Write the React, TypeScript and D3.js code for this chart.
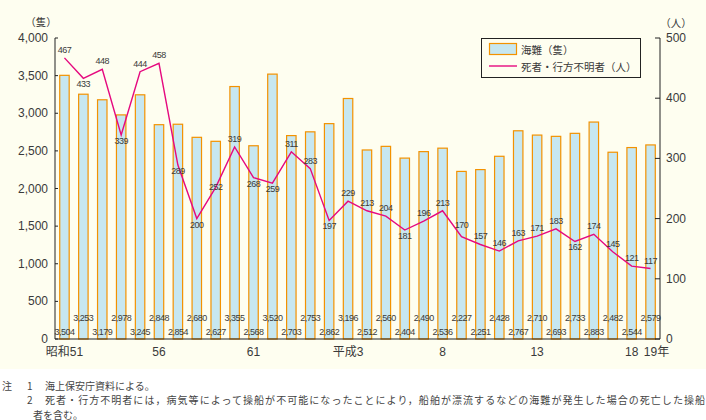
import React from "react";
import * as d3 from "d3";

const YEARS: number[] = d3.range(1976, 2008);
const ACCIDENTS: number[] = [
  3504, 3253, 3179, 2978, 3245, 2848, 2854, 2680, 2627, 3355, 2568, 3520, 2703, 2753, 2862, 3196,
  2512, 2560, 2404, 2490, 2536, 2227, 2251, 2428, 2767, 2710, 2693, 2733, 2883, 2482, 2544, 2579,
];
const DEATHS: number[] = [
  467, 433, 448, 339, 444, 458, 289, 200, 252, 319, 268, 259, 311, 283, 197, 229,
  213, 204, 181, 196, 213, 170, 157, 146, 163, 171, 183, 162, 174, 145, 121, 117,
];
// label placement for line values: a = above, b = below, c = centred on point
const DEATH_LABEL_PLACE: string[] = [
  "a", "b", "a", "b", "a", "a", "b", "b", "c", "a", "b", "b", "a", "a", "b", "a",
  "a", "a", "b", "a", "a", "A", "a", "a", "a", "a", "a", "b", "a", "a", "a", "a",
];
const X_TICK_LABELS: { year: number; label: string }[] = [
  { year: 1976, label: "昭和51" },
  { year: 1981, label: "56" },
  { year: 1986, label: "61" },
  { year: 1991, label: "平成3" },
  { year: 1996, label: "8" },
  { year: 2001, label: "13" },
  { year: 2006, label: "18" },
];
const LAST_LABEL = { year: 2007, num: "19", suffix: "年" };
const LEFT_TICKS: number[] = [0, 500, 1000, 1500, 2000, 2500, 3000, 3500, 4000];
const RIGHT_TICKS: number[] = [0, 100, 200, 300, 400, 500];
const NOTES: string[] = [
  "海上保安庁資料による。",
  "死者・行方不明者には，病気等によって操船が不可能になったことにより，船舶が漂流するなどの海難が発生した場合の死亡した操船",
  "者を含む。",
];

const W = 706;
const H = 420;
const L = 55;
const R = 660;
const TOP = 38;
const BOT = 339;

const SANS = "'Liberation Sans', Arial, Helvetica, sans-serif";
const CJK = "'Noto Sans CJK JP', 'Noto Sans', sans-serif";
const BAR_FILL = "#c7e7f0";
const BAR_STROKE = "#f39200";
const LINE = "#e5097f";
const TEXT = "#3a3a3a";

export default function App() {
  const x = d3.scaleBand<number>().domain(YEARS).range([L, R]).paddingInner(0.5).paddingOuter(0.25);
  const yL = d3.scaleLinear().domain([0, 4000]).range([BOT, TOP]);
  const yR = d3.scaleLinear().domain([0, 500]).range([BOT, TOP]);
  const cx = (yr: number) => (x(yr) as number) + x.bandwidth() / 2;
  const fmt = d3.format(",");

  const lineGen = d3
    .line<number>()
    .x((_, i) => cx(YEARS[i]))
    .y((d) => yR(d));

  const offs: Record<string, number> = { a: -8, A: -12, b: 6, c: 0 };

  return (
    <svg
      width={W}
      height={H}
      style={{ position: "fixed", left: 0, top: 0, background: "#fff" }}
    >
      <rect x={0} y={0} width={W} height={369} fill="#fefef0" />

      {/* bars */}
      {ACCIDENTS.map((v, i) => (
        <rect
          key={"b" + i}
          x={x(YEARS[i])}
          y={yL(v)}
          width={x.bandwidth()}
          height={BOT - yL(v)}
          fill={BAR_FILL}
          stroke={BAR_STROKE}
          strokeWidth={1.2}
        />
      ))}

      {/* bar value labels */}
      {ACCIDENTS.map((v, i) => (
        <text
          key={"bl" + i}
          x={cx(YEARS[i])}
          y={i % 2 === 0 ? 332 : 318}
          textAnchor="middle"
          dominantBaseline="central"
          fontFamily={SANS}
          fontSize={9}
          letterSpacing={-0.5}
          fill={TEXT}
        >
          {fmt(v)}
        </text>
      ))}

      {/* line */}
      <path d={lineGen(DEATHS) || ""} fill="none" stroke={LINE} strokeWidth={1.4} />
      {DEATHS.map((v, i) => (
        <text
          key={"ll" + i}
          x={cx(YEARS[i])}
          y={yR(v) + offs[DEATH_LABEL_PLACE[i]]}
          textAnchor="middle"
          dominantBaseline="central"
          fontFamily={SANS}
          fontSize={9}
          letterSpacing={-0.5}
          fill={TEXT}
        >
          {v}
        </text>
      ))}

      {/* axes */}
      <line x1={L} x2={L} y1={TOP} y2={BOT} stroke="#222" strokeWidth={1} />
      <line x1={R} x2={R} y1={TOP} y2={BOT} stroke="#222" strokeWidth={1} />
      <line x1={L} x2={R} y1={BOT} y2={BOT} stroke="#222" strokeWidth={1} />
      {LEFT_TICKS.map((t) => (
        <g key={"lt" + t}>
          <line x1={L} x2={L + 3} y1={yL(t)} y2={yL(t)} stroke="#222" />
          <text
            x={48}
            y={yL(t)}
            textAnchor="end"
            dominantBaseline="central"
            fontFamily={SANS}
            fontSize={12}
            fill={TEXT}
          >
            {fmt(t)}
          </text>
        </g>
      ))}
      {RIGHT_TICKS.map((t) => (
        <g key={"rt" + t}>
          <line x1={R - 5} x2={R} y1={yR(t)} y2={yR(t)} stroke="#222" />
          <text
            x={666}
            y={yR(t)}
            textAnchor="start"
            dominantBaseline="central"
            fontFamily={SANS}
            fontSize={12}
            fill={TEXT}
          >
            {t}
          </text>
        </g>
      ))}
      <text x={41} y={21} textAnchor="middle" dominantBaseline="central" fontFamily={CJK} fontSize={10.5} fill={TEXT}>
        （隻）
      </text>
      <text x={676} y={22} textAnchor="middle" dominantBaseline="central" fontFamily={CJK} fontSize={10.5} fill={TEXT}>
        （人）
      </text>

      {/* x labels */}
      {X_TICK_LABELS.map((d) => (
        <text
          key={"x" + d.year}
          x={cx(d.year)}
          y={352}
          textAnchor="middle"
          dominantBaseline="central"
          fontFamily={`${SANS.split(",")[0]}, ${CJK}`}
          fontSize={12}
          fill={TEXT}
        >
          {d.label}
        </text>
      ))}
      <text
        x={cx(LAST_LABEL.year) - 6.7}
        y={352}
        textAnchor="start"
        dominantBaseline="central"
        fontFamily={`${SANS.split(",")[0]}, ${CJK}`}
        fontSize={12}
        fill={TEXT}
      >
        {LAST_LABEL.num + LAST_LABEL.suffix}
      </text>

      {/* legend */}
      <rect x={481.5} y={38.5} width={159} height={39} fill="#fefef0" stroke="#222" strokeWidth={1} />
      <rect x={489.5} y={43.5} width={27} height={11} fill={BAR_FILL} stroke={BAR_STROKE} strokeWidth={1.2} />
      <text x={521} y={49} dominantBaseline="central" fontFamily={CJK} fontSize={10.5} fill={TEXT}>
        海難（隻）
      </text>
      <line x1={489} x2={517} y1={66} y2={66} stroke={LINE} strokeWidth={1.4} />
      <text x={521} y={66} dominantBaseline="central" fontFamily={CJK} fontSize={10.5} fill={TEXT}>
        死者・行方不明者（人）
      </text>

      {/* notes */}
      <g fontFamily={CJK} fontSize={10} fill="#444">
        <text x={2} y={385} dominantBaseline="central">注</text>
        <text x={27} y={385} dominantBaseline="central">1</text>
        <text x={45} y={385} dominantBaseline="central">{NOTES[0]}</text>
        <text x={27} y={399} dominantBaseline="central">2</text>
        <text x={45} y={399} dominantBaseline="central" textLength={660} lengthAdjust="spacing">
          {NOTES[1]}
        </text>
        <text x={33} y={414} dominantBaseline="central">{NOTES[2]}</text>
      </g>
    </svg>
  );
}
